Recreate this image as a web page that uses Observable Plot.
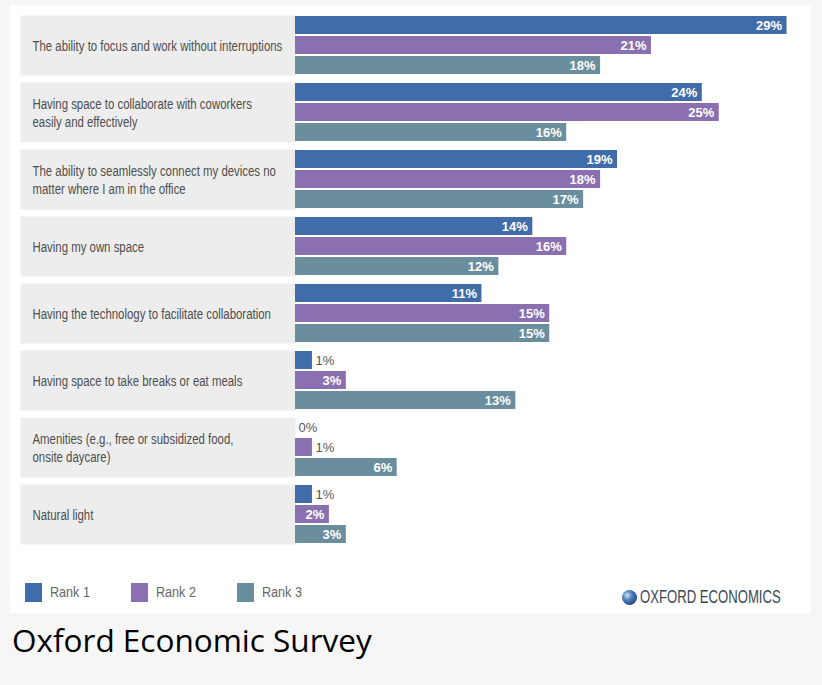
<!DOCTYPE html>
<html>
<head>
<meta charset="utf-8">
<script src="https://cdn.jsdelivr.net/npm/d3@7"></script>
<script src="https://cdn.jsdelivr.net/npm/@observablehq/plot@0.6"></script>
<style>
  html, body { margin: 0; padding: 0; background: #f6f6f6; }
  #panel { position: absolute; left: 10px; top: 5px; width: 801px; height: 608px; background: #fff; }
  #chart { position: absolute; left: 0; top: 0; }
  .legend { position: absolute; top: 578px; left: 15px; height: 19px; }
  .item { position: absolute; top: 0; height: 19px; white-space: nowrap; }
  .sw { position: absolute; left: 0; top: 0; width: 17px; height: 19px; }
  .lt { position: absolute; left: 25px; top: 1px; font: 14px "Liberation Sans", Arial, sans-serif; color: #666;
        transform: scaleX(0.9); transform-origin: 0 0; }
  .logo { position: absolute; left: 612px; top: 583px; height: 19px; white-space: nowrap; }
  .globe { position: absolute; left: 0; top: 2px; width: 15px; height: 15px; border-radius: 50%;
           background: radial-gradient(circle at 35% 35%, #cfe0f5 0%, #4f7fc0 35%, #1d3f7a 80%, #0f2650 100%); }
  .logotext { position: absolute; left: 18px; top: -1px; font: 17.5px "Liberation Sans", Arial, sans-serif; color: #3b4658;
              transform: scaleX(0.75); transform-origin: 0 0; }
  #caption { position: absolute; left: 12px; top: 618px; font: 31.5px "Open Sans", "Noto Sans", sans-serif; color: #000; }
</style>
</head>
<body>
<div id="panel">
  <div id="chart"></div>
  <div class="legend" id="legend"></div>
  <div class="logo"><div class="globe"></div><div class="logotext">OXFORD ECONOMICS</div></div>
</div>
<div id="caption">Oxford Economic Survey</div>
<script>
const categories = [
  "The ability to focus and work without interruptions",
  "Having space to collaborate with coworkers\neasily and effectively",
  "The ability to seamlessly connect my devices no\nmatter where I am in the office",
  "Having my own space",
  "Having the technology to facilitate collaboration",
  "Having space to take breaks or eat meals",
  "Amenities (e.g., free or subsidized food,\nonsite daycare)",
  "Natural light"
];
const ranks = ["Rank 1", "Rank 2", "Rank 3"];
const rank1 = [29, 24, 19, 14, 11, 1, 0, 1];
const rank2 = [21, 25, 18, 16, 15, 3, 1, 2];
const rank3 = [18, 16, 17, 12, 15, 13, 6, 3];
const colors = ["#416caa", "#8a70b0", "#6a8e9e"];

const series = [rank1, rank2, rank3];
const data = [];
categories.forEach((c, i) => ranks.forEach((r, j) => data.push({category: c, rank: r, value: series[j][i]})));

const W = 801, ML = 285, XMAX = 30, PX = 16.95;
const plotW = XMAX * PX;
const MR = W - ML - plotW;
const sans = '"Liberation Sans", Arial, sans-serif';

const chart = Plot.plot({
  width: W,
  height: 545,
  marginLeft: ML,
  marginRight: MR,
  marginTop: 9,
  marginBottom: 6,
  style: {background: "#fff", overflow: "visible"},
  x: {domain: [0, XMAX], axis: null},
  y: {domain: ranks, axis: null, paddingInner: 0.1, paddingOuter: 0},
  fy: {domain: categories, axis: null, paddingInner: 0.105, paddingOuter: 0},
  color: {domain: ranks, range: colors},
  marks: [
    Plot.frame({fill: "#ededed", stroke: null, insetLeft: -(ML - 10), insetRight: plotW}),
    Plot.text(categories, {fy: d => d, text: d => d, frameAnchor: "left", dx: -(ML - 22), textAnchor: "start",
      fill: "#4d4d4d", fontSize: 14, lineHeight: 1.3, fontFamily: sans, ariaLabel: () => "catlabel"}),
    Plot.barX(data, {x: "value", y: "rank", fy: "category", fill: "rank"}),
    Plot.text(data.filter(d => d.value >= 2), {x: "value", y: "rank", fy: "category", text: d => d.value + "%",
      textAnchor: "end", dx: -5, fill: "#fff", fontWeight: "bold", fontSize: 13, fontFamily: sans}),
    Plot.text(data.filter(d => d.value < 2), {x: "value", y: "rank", fy: "category", text: d => d.value + "%",
      textAnchor: "start", dx: 3, fill: "#555", fontSize: 13, fontFamily: sans})
  ]
});
// condense the category labels horizontally (a narrow face is not installed)
d3.select(chart).selectAll("text").filter(function() {
  return this.getAttribute("aria-label") === "catlabel" || (this.parentNode && this.parentNode.getAttribute("fill") === "#4d4d4d");
}).each(function() {
  const t = this.getAttribute("transform") || "";
  this.setAttribute("transform", t + " scale(0.815,1)");
});
document.getElementById("chart").appendChild(chart);

const legend = document.getElementById("legend");
ranks.forEach((r, i) => {
  const item = document.createElement("div");
  item.className = "item";
  item.style.left = (i * 106) + "px";
  item.innerHTML = `<div class="sw" style="background:${colors[i]}"></div><div class="lt">${r}</div>`;
  legend.appendChild(item);
});
</script>
</body>
</html>
